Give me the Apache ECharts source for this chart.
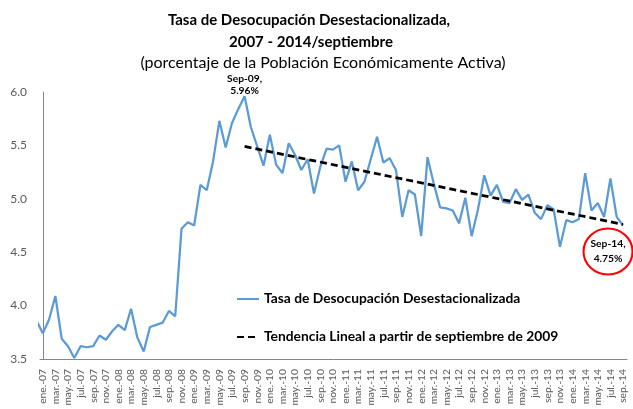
<!DOCTYPE html>
<html><head><meta charset="utf-8">
<script src="https://cdn.jsdelivr.net/npm/echarts@6/dist/echarts.min.js"></script>
<style>html,body{margin:0;padding:0;background:#fff}#c{width:633px;height:409px}</style>
</head><body><div id="c"></div>
<script>
const monthNames = ['ene.','feb.','mar.','abr.','may.','jun.','jul.','ago.','sep.','oct.','nov.','dic.'];
const yearLabels = ['07','08','09','10','11','12','13','14'];
const rateDec2006 = 3.86;
const rate2007 = [3.74, 3.87, 4.09, 3.69, 3.62, 3.51, 3.62, 3.61, 3.62, 3.72, 3.68, 3.76];
const rate2008 = [3.82, 3.77, 3.97, 3.70, 3.57, 3.80, 3.82, 3.84, 3.95, 3.90, 4.72, 4.78];
const rate2009 = [4.75, 5.13, 5.08, 5.35, 5.73, 5.48, 5.71, 5.84, 5.96, 5.67, 5.49, 5.31];
const rate2010 = [5.60, 5.32, 5.24, 5.52, 5.41, 5.27, 5.37, 5.05, 5.30, 5.47, 5.46, 5.50];
const rate2011 = [5.16, 5.35, 5.08, 5.16, 5.37, 5.58, 5.34, 5.38, 5.27, 4.83, 5.08, 5.04];
const rate2012 = [4.65, 5.39, 5.14, 4.92, 4.91, 4.89, 4.77, 5.01, 4.65, 4.90, 5.22, 5.03];
const rate2013 = [5.13, 4.97, 4.96, 5.09, 4.99, 5.04, 4.87, 4.81, 4.94, 4.90, 4.55, 4.80];
const rate2014 = [4.78, 4.81, 5.24, 4.89, 4.96, 4.83, 5.19, 4.83, 4.75];
const trendStartMonth = 'sep.-09', trendStartValue = 5.49;
const trendEndMonth = 'sep.-14', trendEndValue = 4.76;
const peakMonth = 'sep.-09', peakText = 'Sep-09,\n5.96%';
const lastMonth = 'sep.-14', lastText = 'Sep-14,\n4.75%';
const seriesNames = ['Tasa de Desocupación Desestacionalizada', 'Tendencia Lineal a partir de septiembre de 2009'];
const titleLines = ['Tasa de Desocupación Desestacionalizada,', '2007 - 2014/septiembre', '(porcentaje de la Población Económicamente Activa)'];

const rates = [].concat(rate2007, rate2008, rate2009, rate2010, rate2011, rate2012, rate2013, rate2014);
const categories = [];
yearLabels.forEach(y => monthNames.forEach(m => categories.push(m + '-' + y)));
categories.length = rates.length;
const tickLabels = categories.filter((c, i) => i % 2 === 0);
const idx = name => categories.indexOf(name);
const lineData = [[-1, rateDec2006]].concat(rates.map((v, i) => [i, v]));
const trendData = [[idx(trendStartMonth), trendStartValue], [idx(trendEndMonth), trendEndValue]];

const FONT = 'Lato';
const chart = echarts.init(document.getElementById('c'), null, {renderer: 'canvas'});
chart.setOption({
  animation: false,
  textStyle: {fontFamily: FONT},
  graphic: [
    {type: 'text', x: 309, y: 20, style: {text: titleLines[0], fontFamily: FONT, fontSize: 15, fontWeight: 'bold', fill: '#000', align: 'center', verticalAlign: 'middle'}},
    {type: 'text', x: 311, y: 42, style: {text: titleLines[1], fontFamily: FONT, fontSize: 15, fontWeight: 'bold', fill: '#000', align: 'center', verticalAlign: 'middle'}},
    {type: 'text', x: 323, y: 63, style: {text: titleLines[2], fontFamily: FONT, fontSize: 16, fill: '#000', align: 'center', verticalAlign: 'middle'}}
  ],
  grid: {left: 40, right: 6, top: 92, bottom: 50, containLabel: false},
  legend: {
    orient: 'vertical', left: 236, top: 292, padding: 0, itemGap: 24, itemWidth: 22, itemHeight: 14,
    itemStyle: {opacity: 0},
    textStyle: {fontFamily: FONT, fontSize: 13.8, fontWeight: 'bold', color: '#000'},
    data: seriesNames
  },
  xAxis: {
    type: 'value', min: -0.44, max: 92.63,
    axisLine: {show: true, lineStyle: {color: '#868686', width: 1}},
    axisTick: {show: false}, splitLine: {show: false},
    axisLabel: {
      customValues: tickLabels.map(idx), rotate: 90, margin: 10,
      fontFamily: FONT, fontSize: 10.3, color: '#595959',
      formatter: v => categories[Math.round(v)]
    }
  },
  yAxis: {
    type: 'value', min: 3.5, max: 6.0, interval: 0.5,
    axisLine: {show: true, lineStyle: {color: '#868686', width: 1}},
    axisTick: {show: false}, splitLine: {show: false},
    axisLabel: {margin: 13, fontFamily: FONT, fontSize: 12, color: '#595959', formatter: v => v.toFixed(1)}
  },
  series: [
    {
      name: seriesNames[0], type: 'line', data: lineData, symbol: 'none', clip: true,
      lineStyle: {color: '#5B9BD5', width: 2.25}, itemStyle: {color: '#5B9BD5'},
      markPoint: {
        symbol: 'circle', animation: false,
        data: [
          {coord: [idx(peakMonth), rates[idx(peakMonth)]], symbolSize: 1, itemStyle: {color: 'rgba(0,0,0,0)'},
           label: {show: true, position: 'top', distance: -1, formatter: peakText, fontFamily: FONT, fontSize: 10.3, fontWeight: 'bold', color: '#000', lineHeight: 12, align: 'center'}},
          {coord: [idx(lastMonth), rates[idx(lastMonth)]], symbolSize: [49, 46], symbolOffset: [-15, 26],
           itemStyle: {color: 'rgba(255,255,255,0)', borderColor: '#FF0000', borderWidth: 2},
           label: {show: true, position: 'inside', formatter: lastText, fontFamily: FONT, fontSize: 10.3, fontWeight: 'bold', color: '#000', lineHeight: 15, align: 'center'}}
        ]
      }
    },
    {
      name: seriesNames[1], type: 'line', data: trendData, symbol: 'none',
      lineStyle: {color: '#000', width: 2.75, type: [7, 4]}, itemStyle: {color: '#000'}
    }
  ]
});
</script></body></html>
